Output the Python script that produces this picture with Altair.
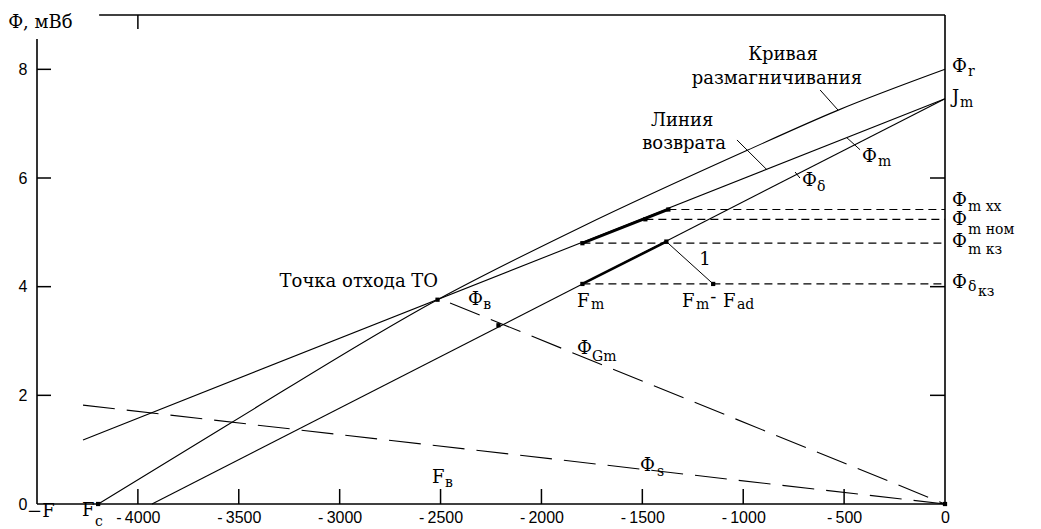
import altair as alt
import pandas as pd

# ---------------- data (F in A, Phi in mWb) ----------------
x_ticks = [-4000, -3500, -3000, -2500, -2000, -1500, -1000, -500, 0]
y_ticks = [0, 2, 4, 6, 8]

demag_F = [-4197, -3554, -2515, -1807, -980, -535, 0]
demag_Phi = [0, 1.46, 3.76, 5.09, 6.51, 7.24, 8.0]

return_F = [-4272, 0]
return_Phi = [1.18, 7.46]

delta_F = [-3930, 0]
delta_Phi = [0, 7.46]

phiB_F = [-2453, 0]
phiB_Phi = [3.70, 0]

phiS_F = [-4272, 0]
phiS_Phi = [1.82, 0]

level_F = [-1371, -1485, -1797, -1797]
level_Phi = [5.42, 5.24, 4.80, 4.05]

thick_F = [-1797, -1797]
thick_F2 = [-1371, -1381]
thick_Phi = [4.80, 4.05]
thick_Phi2 = [5.42, 4.83]

point_F = [-2515, -1797, -1485, -1371, -1797, -1381, -1149, -2213, -4197, 0]
point_Phi = [3.76, 4.80, 5.24, 5.42, 4.05, 4.83, 4.05, 3.29, 0, 0]

leader_F = [-619, -1031, -486, -743, -1381]
leader_F2 = [-530, -882, -421, -719, -1149]
leader_Phi = [7.62, 6.70, 6.74, 6.11, 4.83]
leader_Phi2 = [7.25, 6.15, 6.52, 6.00, 4.05]

frame_F = [-4500, -4500, 0, -4192]
frame_F2 = [-4500, 0, 0, 0]
frame_Phi = [0, 0, 0, 9.0]
frame_Phi2 = [8.56, 0, 9.0, 9.0]

# labels (base text)
lab_left_text = ["Ф, мВб", "Ф", "Ф", "Ф", "Ф", "F", "F", "-", "F", "Ф", "F", "−F", "F",
                 "Ф", "J", "Ф", "Ф", "Ф", "Ф"]
lab_left_F = [-4643, -411, -709, -2364, -1824, -1824, -1303, -1163, -1100, -1511, -2542, -4549, -4277,
              35, 35, 35, 35, 35, 35]
lab_left_Phi = [8.85, 6.38, 5.95, 3.75, 2.85, 3.72, 3.72, 3.80, 3.72, 0.70, 0.48, -0.14, -0.12,
                8.04, 7.47, 5.58, 5.23, 4.82, 4.07]

lab_center_text = ["Кривая", "размагничивания", "Линия", "возврата", "1"]
lab_center_F = [-803, -833, -1303, -1293, -1189]
lab_center_Phi = [8.27, 7.83, 7.04, 6.63, 4.49]

lab_right_text = ["Точка отхода ТО"]
lab_right_F = [-2512]
lab_right_Phi = [4.09]

sub_text = ["m", "δ", "в", "Gm", "m", "m", "ad", "s", "в", "c",
            "r", "m", "m хх", "m ном", "m кз", "δ", "кз"]
sub_F = [-332, -634, -2289, -1749, -1754, -1234, -1031, -1427, -2478, -4212,
         114, 74, 114, 114, 114, 114, 164]
sub_Phi = [6.30, 5.83, 3.66, 2.71, 3.66, 3.66, 3.66, 0.59, 0.39, -0.33,
           7.95, 7.38, 5.47, 5.04, 4.68, 3.99, 3.90]

# ---------------- tables ----------------
def line_df(F, P, name):
    return pd.DataFrame({"F": F, "Phi": P, "name": name})

demag = line_df(demag_F, demag_Phi, "demag")
straight_lines = pd.concat([
    line_df(return_F, return_Phi, "return"),
    line_df(delta_F, delta_Phi, "delta"),
])
dashed_lines = pd.concat([
    line_df(phiB_F, phiB_Phi, "phiB"),
    line_df(phiS_F, phiS_Phi, "phiS"),
])
levels = pd.DataFrame({"F": level_F, "F2": [0] * len(level_F), "Phi": level_Phi, "Phi2": level_Phi})
thick = pd.DataFrame({"F": thick_F, "F2": thick_F2, "Phi": thick_Phi, "Phi2": thick_Phi2})
points = pd.DataFrame({"F": point_F, "Phi": point_Phi})
leaders = pd.DataFrame({"F": leader_F, "F2": leader_F2, "Phi": leader_Phi, "Phi2": leader_Phi2})
frame = pd.DataFrame({"F": frame_F, "F2": frame_F2, "Phi": frame_Phi, "Phi2": frame_Phi2})
xt = pd.DataFrame({"F": x_ticks[:-1]})
yt = pd.DataFrame({"Phi": y_ticks[1:]})
yt_r = pd.DataFrame({"Phi": [2, 4, 6]})
xt_top = pd.DataFrame({"F": [-4000]})
labL = pd.DataFrame({"F": lab_left_F, "Phi": lab_left_Phi, "t": lab_left_text})
labC = pd.DataFrame({"F": lab_center_F, "Phi": lab_center_Phi, "t": lab_center_text})
labR = pd.DataFrame({"F": lab_right_F, "Phi": lab_right_Phi, "t": lab_right_text})
labS = pd.DataFrame({"F": sub_F, "Phi": sub_Phi, "t": sub_text})

W, H = 908, 489
xs = alt.Scale(domain=[-4500, 0], nice=False, zero=False)
ys = alt.Scale(domain=[0, 9.0], nice=False, zero=False)
xaxis = alt.Axis(values=x_ticks, domain=False, ticks=False, grid=False, title=None,
                 labelExpr="datum.value < 0 ? '-\u2009' + abs(datum.value) : '0'",
                 labelFont="Liberation Sans", labelFontSize=16, labelColor="black",
                 labelPadding=5, labelFlush=False, labelOverlap=False)
yaxis = alt.Axis(values=y_ticks, domain=False, ticks=False, grid=False, title=None,
                 labelFont="Liberation Sans", labelFontSize=16, labelColor="black",
                 labelPadding=10, labelOverlap=False)

def X(f="F"):
    return alt.X(f, type="quantitative", scale=xs, axis=xaxis)

def Y(f="Phi"):
    return alt.Y(f, type="quantitative", scale=ys, axis=yaxis)

SERIF = "DejaVu Serif"

frame_l = alt.Chart(frame).mark_rule(color="black", strokeWidth=1.6).encode(
    x=X(), x2="F2", y=Y(), y2="Phi2")
xtick_l = alt.Chart(xt).mark_rule(color="black", strokeWidth=1.5).encode(
    x=X(), y=alt.value(H), y2=alt.value(H - 15))
xtick_top = alt.Chart(xt_top).mark_rule(color="black", strokeWidth=1.5).encode(
    x=X(), y=alt.value(0), y2=alt.value(14))
ytick_l = alt.Chart(yt).mark_rule(color="black", strokeWidth=1.5).encode(
    y=Y(), x=alt.value(0), x2=alt.value(14))
ytick_r = alt.Chart(yt_r).mark_rule(color="black", strokeWidth=1.5).encode(
    y=Y(), x=alt.value(W - 15), x2=alt.value(W))

demag_l = alt.Chart(demag).mark_line(color="black", strokeWidth=1.1,
                                     interpolate="monotone").encode(
    x=X(), y=Y(), order=alt.Order("F:Q"))
solid_l = alt.Chart(straight_lines).mark_line(color="black", strokeWidth=1.1).encode(
    x=X(), y=Y(), detail="name:N", order=alt.Order("F:Q"))
dashed_l = alt.Chart(dashed_lines).mark_line(color="black", strokeWidth=1.1,
                                             strokeDash=[32, 12]).encode(
    x=X(), y=Y(), detail="name:N", order=alt.Order("F:Q"))
levels_l = alt.Chart(levels).mark_rule(color="black", strokeWidth=1.2,
                                       strokeDash=[8, 5]).encode(
    x=X(), x2="F2", y=Y(), y2="Phi2")
thick_l = alt.Chart(thick).mark_rule(color="black", strokeWidth=2.6).encode(
    x=X(), x2="F2", y=Y(), y2="Phi2")
leaders_l = alt.Chart(leaders).mark_rule(color="black", strokeWidth=1.0).encode(
    x=X(), x2="F2", y=Y(), y2="Phi2")
points_l = alt.Chart(points).mark_square(color="black", size=18, opacity=1).encode(
    x=X(), y=Y())

labL_l = alt.Chart(labL).mark_text(font=SERIF, fontSize=18, align="left",
                                   baseline="middle", color="black").encode(
    x=X(), y=Y(), text="t:N")
labC_l = alt.Chart(labC).mark_text(font=SERIF, fontSize=18, align="center",
                                   baseline="middle", color="black").encode(
    x=X(), y=Y(), text="t:N")
labR_l = alt.Chart(labR).mark_text(font=SERIF, fontSize=18, align="right",
                                   baseline="middle", color="black").encode(
    x=X(), y=Y(), text="t:N")
labS_l = alt.Chart(labS).mark_text(font=SERIF, fontSize=14, align="left",
                                   baseline="middle", color="black").encode(
    x=X(), y=Y(), text="t:N")

chart = alt.layer(
    frame_l, xtick_l, xtick_top, ytick_l, ytick_r,
    levels_l, dashed_l, demag_l, solid_l, thick_l, leaders_l, points_l,
    labL_l, labC_l, labR_l, labS_l,
).properties(
    width=W, height=H,
    autosize=alt.AutoSizeParams(type="none"),
    padding={"left": 29, "top": 7, "right": 86, "bottom": 25},
    background="white",
).configure_view(stroke=None)

chart.save("out.html", embed_options={"renderer": "svg", "actions": False})
